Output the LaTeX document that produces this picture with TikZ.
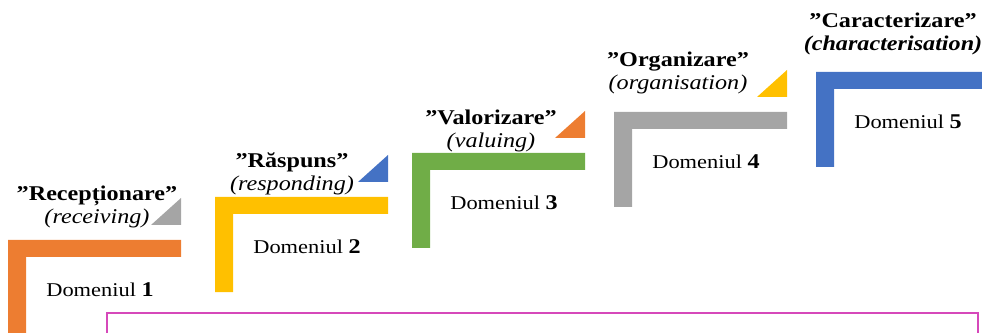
\documentclass[tikz,border=0pt]{standalone}
\usepackage{fontspec}
\setmainfont[FakeStretch=1.15]{Liberation Serif}
\usetikzlibrary{calc,positioning}

\definecolor{stepor}{HTML}{ED7D31}
\definecolor{stepye}{HTML}{FFC000}
\definecolor{stepgn}{HTML}{70AD47}
\definecolor{stepgy}{HTML}{A5A5A5}
\definecolor{stepbl}{HTML}{4472C4}
\definecolor{framepk}{RGB}{214,72,186}

\begin{document}
\begin{tikzpicture}[x=1pt,y=1pt,
  steptitle/.style={font=\fontsize{21}{21}\selectfont\bfseries,inner sep=0pt,anchor=base},
  stepsub/.style={font=\fontsize{21}{21}\selectfont\itshape,inner sep=0pt,anchor=base},
  domtext/.style={font=\fontsize{19.5}{19.5}\selectfont,inner sep=0pt,anchor=base}]

\useasboundingbox (0,0) rectangle (982,332);
\clip (0,0) rectangle (982,332);

% one step: number / left / top / colour / corner colour / name / english / text x / text y
\def\steps{1/8/92/stepor/stepgy/Recepționare/{(receiving)}/97/131,
  2/215/135/stepye/stepbl/Răspuns/{(responding)}/292/164,
  3/412/179/stepgn/stepor/Valorizare/{(valuing)}/491/207,
  4/614/220/stepgy/stepye/Organizare/{(organisation)}/678/265,
  5/816/260/stepbl/none/Caracterizare/{\bfseries(characterisation)}/893/304}

\foreach \i/\x/\y/\col/\tri/\name/\eng/\tx/\ty in \steps {
  \coordinate (c\i) at (\x,\y);
  \fill[\col] (c\i) ++(0,-95) |- ++(173,95) -- ++(0,-17) -| ++(-155,-78) -- cycle;
  \ifnum\i<5
    \fill[\tri] ($(c\i)+(143,15)$) -- ++(30,0) -- ++(0,27) -- cycle;
  \fi
  \node[steptitle] (t\i) at (\tx,\ty) {”\name”};
  \node[stepsub] (s\i) at ($(t\i.base)+(0,-23)$) {\eng};
  \node[domtext] (d\i) at ($(c\i)+(92,-57)$) {Domeniul {\fontsize{21}{21}\selectfont\bfseries\i}};
}

\draw[framepk,line width=1.2pt] (107,19) rectangle (978,-10);

\end{tikzpicture}
\end{document}
